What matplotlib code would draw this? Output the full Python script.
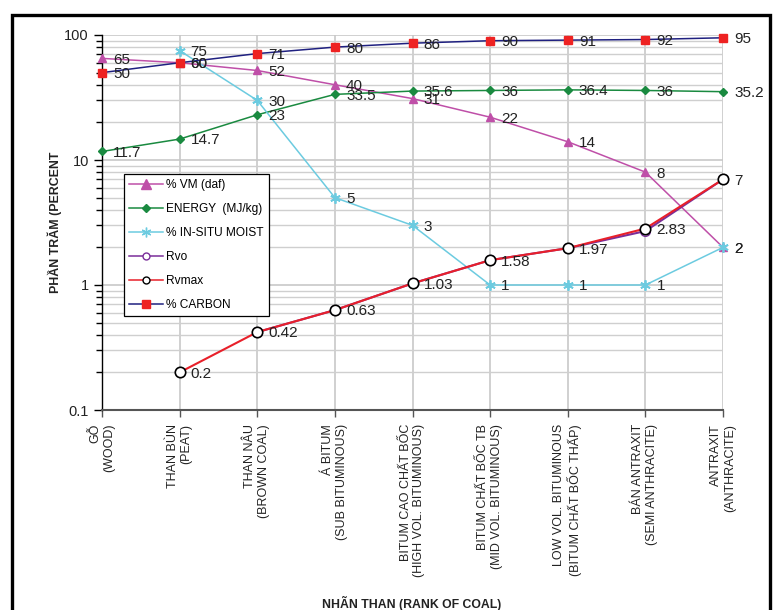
import numpy as np
import matplotlib
matplotlib.use("Agg")
import matplotlib.pyplot as plt
from matplotlib.patches import Rectangle
from matplotlib.lines import Line2D
from matplotlib.ticker import LogLocator, NullFormatter, FixedLocator

plt.rcParams['font.family'] = ['Liberation Sans', 'DejaVu Sans']

categories = [
    "GỖ\n(WOOD)",
    "THAN BÙN\n(PEAT)",
    "THAN NÂU\n(BROWN COAL)",
    "Á BITUM\n(SUB BITUMINOUS)",
    "BITUM CAO CHẤT BỐC\n(HIGH VOL. BITUMINOUS)",
    "BITUM CHẤT BỐC TB\n(MID VOL. BITUMINOUS)",
    "LOW VOL. BITUMINOUS\n(BITUM CHẤT BỐC THẤP)",
    "BÁN ANTRAXIT\n(SEMI ANTHRACITE)",
    "ANTRAXIT\n(ANTHRACITE)",
]
vm = [65, 60, 52, 40, 31, 22, 14, 8, 2]
energy = [11.7, 14.7, 23, 33.5, 35.6, 36, 36.4, 36, 35.2]
moist = [np.nan, 75, 30, 5, 3, 1, 1, 1, 2]
rvo = [np.nan, np.nan, 0.42, 0.63, 1.03, 1.58, 1.97, 2.7, 7]
rvmax = [np.nan, 0.2, 0.42, 0.63, 1.03, 1.58, 1.97, 2.83, 7]
carbon = [50, 60, 71, 80, 86, 90, 91, 92, 95]

W, H = 773, 610
fig = plt.figure(figsize=(W / 100, H / 100), dpi=100)
ax = fig.add_axes([102 / W, 1 - 410 / H, (723 - 102) / W, (410 - 35) / H])

x = np.arange(len(categories))

c_vm = '#BF4FA8'
c_en = '#1A8A40'
c_mo = '#6CCBE0'
c_rvo = '#7A2E9A'
c_rvmax = '#E8202A'
c_cl = '#1F2080'
c_cm = '#EE2222'

ax.plot(x, vm, color=c_vm, lw=1.1, marker='^', ms=6.2, mfc=c_vm, mec=c_vm, zorder=4, clip_on=False)
ax.plot(x, energy, color=c_en, lw=1.1, marker='D', ms=4, mfc=c_en, mec=c_en, zorder=4, clip_on=False)
ax.plot(x, moist, color=c_mo, lw=1.1, marker=(6, 2, 0), ms=7.5, mfc=c_mo, mec=c_mo, mew=1.3, zorder=4, clip_on=False)
ax.plot(x, rvo, color=c_rvo, lw=1.5, marker='o', ms=7, mfc='white', mec=c_rvo, zorder=4, clip_on=False)
ax.plot(x, rvmax, color=c_rvmax, lw=1.5, marker='o', ms=7.5, mfc='white', mec='black', mew=1.2, zorder=5, clip_on=False)
ax.plot(x, carbon, color=c_cl, lw=1.1, marker='s', ms=5.2, mfc=c_cm, mec=c_cm, zorder=6, clip_on=False)

def fmt(v):
    return ('%g' % v)

for series in (vm, energy, moist, rvmax, carbon):
    for xi, v in zip(x, series):
        if np.isnan(v):
            continue
        ax.annotate(fmt(v), (xi, v), xytext=(8, -1), textcoords='offset points',
                    ha='left', va='center', fontsize=11, color='#222222', zorder=7)

ax.set_yscale('log')
ax.set_ylim(0.1, 100)
ax.set_xlim(0, 8)
ax.yaxis.set_major_locator(FixedLocator([0.1, 1, 10, 100]))
ax.set_yticklabels(['0.1', '1', '10', '100'])
ax.yaxis.set_minor_locator(LogLocator(base=10, subs=np.arange(2, 10)))
ax.yaxis.set_minor_formatter(NullFormatter())
ax.set_xticks(x)
ax.set_xticklabels([])

ax.grid(True, which='major', axis='both', color='#C8C8C8', lw=1.2)
ax.grid(True, which='minor', axis='y', color='#CFCFCF', lw=1.0)
ax.set_axisbelow(True)

for s in ('top', 'right'):
    ax.spines[s].set_visible(False)
ax.spines['left'].set_color('black')
ax.spines['left'].set_linewidth(1.0)
ax.spines['bottom'].set_color('#555555')
ax.spines['bottom'].set_linewidth(1.5)
ax.tick_params(axis='y', which='major', direction='out', length=6, width=1, labelsize=10.5, colors='black', labelcolor='#222222')
ax.tick_params(axis='y', which='minor', direction='out', length=4, width=1)
ax.tick_params(axis='x', which='major', direction='out', length=5, width=1, colors='#555555')

for xi, lab in zip(x, categories):
    ax.annotate(lab, (xi, 0.1), xytext=(0, -10), textcoords='offset points',
                rotation=90, ha='center', va='top', multialignment='right',
                fontsize=9, color='#222222', annotation_clip=False)

fig.text(412 / W, 1 - 603 / H, 'NHÃN THAN (RANK OF COAL)', ha='center', va='center',
         fontsize=8.8, fontweight='bold', color='#222222')
fig.text(55 / W, 1 - 222 / H, 'PHẦN TRĂM (PERCENT', ha='center', va='center',
         rotation=90, fontsize=8.9, fontweight='bold', color='#222222')

handles = [
    Line2D([], [], color=c_vm, lw=1.1, marker='^', ms=7, mfc=c_vm, mec=c_vm),
    Line2D([], [], color=c_en, lw=1.1, marker='D', ms=4.5, mfc=c_en, mec=c_en),
    Line2D([], [], color=c_mo, lw=1.1, marker=(6, 2, 0), ms=7, mfc=c_mo, mec=c_mo),
    Line2D([], [], color=c_rvo, lw=1.1, marker='o', ms=5, mfc='white', mec=c_rvo),
    Line2D([], [], color=c_rvmax, lw=1.1, marker='o', ms=5, mfc='white', mec='black'),
    Line2D([], [], color=c_cl, lw=1.1, marker='s', ms=5.5, mfc=c_cm, mec=c_cm),
]
labels = ['% VM (daf)', 'ENERGY  (MJ/kg)', '% IN-SITU MOIST', 'Rvo', 'Rvmax', '% CARBON']
leg = ax.legend(handles, labels, loc='upper left',
                bbox_to_anchor=(124 / W, 1 - 174 / H), bbox_transform=fig.transFigure,
                fontsize=8.6, frameon=True, fancybox=False, edgecolor='black',
                framealpha=1, handlelength=2.8, handletextpad=0.3, labelspacing=1.0,
                borderpad=0.45, borderaxespad=0)
leg.get_frame().set_linewidth(0.9)
leg.set_zorder(10)

fig.patches.append(Rectangle((12 / W, -0.05), (770 - 12) / W, 1.05 - 15 / H,
                             transform=fig.transFigure, fill=False, edgecolor='black',
                             linewidth=2.4, zorder=0))

fig.savefig('out.png', dpi=100, facecolor='white')
